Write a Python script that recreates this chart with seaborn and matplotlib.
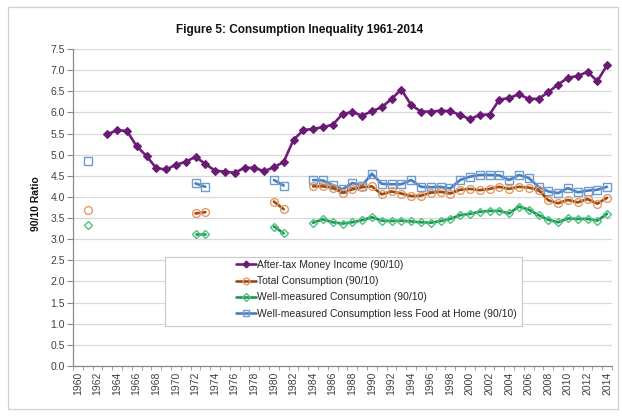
import numpy as np
import pandas as pd
import matplotlib
matplotlib.use("Agg")
import matplotlib.pyplot as plt
import seaborn as sns
from matplotlib.lines import Line2D
from matplotlib.patches import Rectangle

# ---------------- data ----------------
income_years = list(range(1963, 2015))
income = [5.48, 5.58, 5.56, 5.20, 4.97, 4.68, 4.65, 4.76, 4.83, 4.95,
          4.78, 4.62, 4.60, 4.57, 4.69, 4.69, 4.61, 4.70, 4.83, 5.35,
          5.58, 5.61, 5.65, 5.71, 5.96, 6.01, 5.92, 6.03, 6.12, 6.32,
          6.54, 6.18, 6.02, 6.02, 6.04, 6.03, 5.94, 5.84, 5.94, 5.95,
          6.30, 6.34, 6.43, 6.32, 6.32, 6.48, 6.66, 6.82, 6.86, 6.96,
          6.74, 7.12]

cons_years = [1961, 1972, 1973, 1980, 1981] + list(range(1984, 2015))
total_cons = [3.69, 3.61, 3.64, 3.89, 3.71,
              4.25, 4.25, 4.22, 4.10, 4.18, 4.23, 4.25, 4.06, 4.13, 4.08,
              4.02, 4.03, 4.10, 4.12, 4.08, 4.17, 4.19, 4.16, 4.19, 4.24,
              4.19, 4.24, 4.22, 4.17, 3.92, 3.85, 3.93, 3.87, 3.95, 3.84,
              3.98]
well_cons = [3.34, 3.12, 3.12, 3.30, 3.14,
             3.39, 3.47, 3.40, 3.37, 3.40, 3.45, 3.52, 3.44, 3.43, 3.44,
             3.42, 3.40, 3.39, 3.43, 3.48, 3.57, 3.60, 3.65, 3.67, 3.67,
             3.61, 3.77, 3.70, 3.57, 3.46, 3.40, 3.49, 3.48, 3.48, 3.44,
             3.60]
well_less_food = [4.86, 4.32, 4.24, 4.40, 4.27,
                  4.40, 4.39, 4.28, 4.18, 4.33, 4.27, 4.55, 4.31, 4.30, 4.30,
                  4.40, 4.24, 4.23, 4.24, 4.20, 4.40, 4.48, 4.52, 4.52, 4.51,
                  4.40, 4.52, 4.45, 4.24, 4.13, 4.09, 4.21, 4.11, 4.15, 4.17,
                  4.24]

labels = ["After-tax Money Income (90/10)",
          "Total Consumption (90/10)",
          "Well-measured Consumption (90/10)",
          "Well-measured Consumption less Food at Home (90/10)"]
x_tick_years = list(range(1960, 2015, 2))
y_ticks = [0.0, 0.5, 1.0, 1.5, 2.0, 2.5, 3.0, 3.5, 4.0, 4.5, 5.0, 5.5, 6.0, 6.5, 7.0, 7.5]


def seg_ids(yrs):
    out, s, prev = [], 0, None
    for y in yrs:
        if prev is not None and y - prev > 1:
            s += 1
        out.append(s)
        prev = y
    return out


def frame(yrs, vals):
    return pd.DataFrame({"year": yrs, "value": vals, "seg": seg_ids(yrs)})


# ---------------- styling ----------------
sns.set_theme(style="white")
plt.rcParams["font.family"] = ["Liberation Sans", "DejaVu Sans"]

fig = plt.figure(figsize=(6.22, 4.17), dpi=100)
ax = fig.add_axes([73 / 622, 1 - 366 / 417, (612 - 73) / 622, (366 - 49) / 417])

styles = [
    dict(color="#6F1F7B", marker="D", markersize=4.2, markerfacecolor="#6A1A74",
         markeredgecolor="#6A1A74", markeredgewidth=0.8, linewidth=1.9),
    dict(color="#9E470F", marker="o", markersize=5.6, markerfacecolor="none",
         markeredgecolor="#E39A64", markeredgewidth=1.0, linewidth=1.9),
    dict(color="#1E9650", marker="D", markersize=4.4, markerfacecolor="none",
         markeredgecolor="#4CC27E", markeredgewidth=1.0, linewidth=1.9),
    dict(color="#4C7EBA", marker="s", markersize=5.6, markerfacecolor="none",
         markeredgecolor="#6E9BD0", markeredgewidth=1.0, linewidth=1.9),
]

series = [(income_years, income), (cons_years, total_cons),
          (cons_years, well_cons), (cons_years, well_less_food)]

for i, ((yrs, vals), st) in enumerate(zip(series, styles)):
    sns.lineplot(data=frame(yrs, vals), x="year", y="value", units="seg",
                 estimator=None, legend=False, ax=ax, zorder=3 + (3 - i) * 0.1,
                 **st)

ax.set_xlim(1959.5, 2014.5)
ax.set_ylim(0, 7.5)
ax.set_yticks(y_ticks)
ax.set_yticklabels([f"{v:.1f}" for v in y_ticks], fontsize=7.5, color="#404040")
ax.set_xticks(x_tick_years)
ax.set_xticklabels([str(y) for y in x_tick_years], rotation=90, fontsize=7.5,
                   color="#404040")
ax.set_xticks(np.arange(1959.5, 2015, 1), minor=True)
ax.tick_params(axis="x", which="major", length=0, pad=4)
ax.tick_params(axis="x", which="minor", length=3, color="#A0A0A0", width=0.7,
               bottom=True)
ax.tick_params(axis="y", which="major", length=4, color="#8A8A8A", width=0.8,
               left=True, pad=2)
ax.set_xlabel("")
ax.set_ylabel("")

ax.yaxis.grid(True, color="#D9D9D9", linewidth=0.9)
ax.xaxis.grid(False)
ax.set_axisbelow(True)
for s in ["top", "right"]:
    ax.spines[s].set_visible(False)
for s in ["left", "bottom"]:
    ax.spines[s].set_color("#8A8A8A")
    ax.spines[s].set_linewidth(0.9)

# title and y label
fig.text(300 / 622, 1 - 30 / 417, "Figure 5: Consumption Inequality 1961-2014",
         ha="center", va="center", fontsize=8.5, fontweight="bold", color="#111111")
fig.text(36 / 622, 1 - 204 / 417, "90/10 Ratio", rotation=90, ha="center",
         va="center", fontsize=7.5, fontweight="bold", color="#111111")

# legend box (wider than its contents, as in the original)
box = Rectangle((165 / 622, 1 - 326 / 417), (522 - 165) / 622, (326 - 257) / 417,
                transform=fig.transFigure, facecolor="white",
                edgecolor="#C8C8C8", linewidth=0.8, zorder=5)
fig.patches.append(box)

handles = [Line2D([], [], **st) for st in styles]
for h in handles:
    h.set_markersize(h.get_markersize() * 0.85)
leg = fig.legend(handles, labels, loc="upper left",
                 bbox_to_anchor=(236 / 622, 1 - 260 / 417),
                 frameon=False, fontsize=7.5, handlelength=1.9,
                 handletextpad=0.15, labelspacing=0.6, borderpad=0,
                 borderaxespad=0)
leg.set_zorder(6)

# outer chart border
fig.patches.append(Rectangle((8 / 622, 1 - 409 / 417), (618 - 8) / 622,
                             (409 - 7) / 417, transform=fig.transFigure,
                             facecolor="none", edgecolor="#D0D0D0",
                             linewidth=0.9, zorder=0))

fig.savefig("out.png", dpi=100)
